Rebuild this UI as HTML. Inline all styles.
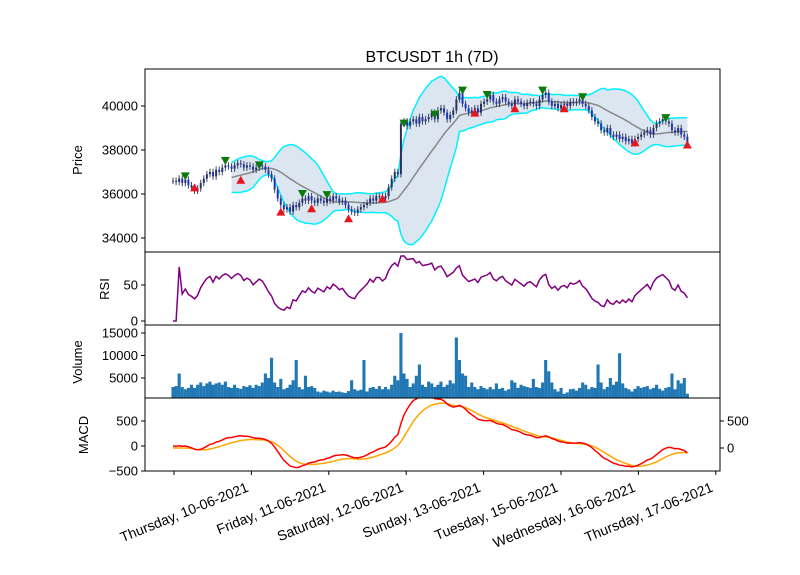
<!DOCTYPE html>
<html><head><meta charset="utf-8">
<style>
html,body{margin:0;padding:0;background:#fff;}
svg{display:block;font-family:"Liberation Sans","DejaVu Sans",sans-serif;}
</style></head>
<body>
<svg id="chart" width="800" height="575" viewBox="0 0 800 575" xmlns="http://www.w3.org/2000/svg">
<rect width="800" height="575" fill="#fff"/>
<text x="432" y="62" font-size="16" text-anchor="middle">BTCUSDT 1h (7D)</text>
<g id="g"></g>
</svg>
<script>
const closes = [36600,36550,36700,36500,36650,36400,36300,36150,36250,36500,
36700,36900,37000,36800,37100,37000,37200,37300,37250,37150,
37300,37400,37350,37200,37300,37250,37100,37200,37300,37250,
37100,36900,36700,36200,35800,35500,35300,35400,35200,35500,
35400,35600,35800,35700,35900,35700,35600,35800,35700,35600,
35800,35700,35900,35800,35650,35700,35500,35300,35200,35150,
35300,35400,35500,35600,35800,35700,35900,35900,35800,35900,
36300,36700,37000,36900,39200,39300,39100,39300,39400,39200,
39500,39300,39400,39500,39700,39400,39800,39900,39700,39400,
39600,39800,40300,40600,40100,39900,39700,39800,39900,39700,
40100,40200,40300,40500,40200,40100,40300,40400,40200,40100,
40000,40300,40200,40100,40000,40150,40200,40100,40000,40300,
40500,40600,40200,40000,40100,39900,40050,40100,40000,40200,
40150,40200,40300,40100,40000,39800,39500,39300,39200,38900,
38800,39000,38700,38600,38700,38500,38600,38400,38500,38300,
38500,38600,38700,38800,38900,38700,39000,39200,39300,39400,
39300,39200,38900,38800,39000,38700,38600,38300];
const volumes = [3000,3200,6000,3000,2500,2800,3500,2800,3500,4000,
3200,3800,4200,3500,3800,4000,3500,4200,3000,2800,
3500,2800,2600,3200,3000,3400,2800,3500,3200,4000,
6000,5000,9500,4000,3000,4800,2500,2800,3500,4500,
9000,3000,2500,5500,3000,3200,2800,2000,1800,2200,
2000,1800,2200,1900,2000,1800,1700,2100,4500,2500,
2200,2400,9000,2000,2800,3000,2600,3200,2500,3000,
2500,3500,5500,4500,15000,6000,4800,3000,3800,5500,
8000,3500,3000,4200,3800,3000,3500,4200,3000,3500,
4500,3800,14000,9000,6000,5500,3000,4000,3000,2500,
3200,2800,2500,3000,2500,3800,2600,2800,2200,2500,
4500,4000,2800,3500,3200,3000,2800,4800,3000,2800,
4000,9000,6500,4000,2500,2000,2800,1500,1800,2500,
2600,2200,2800,4000,3500,2500,3000,2800,8000,4000,
2500,3000,5000,3500,4200,10500,3800,2800,2500,2000,
2600,3200,2800,3000,3200,2500,2800,3500,2600,2200,
2800,3000,6000,2500,4500,3800,5000,1500];
const sellIdx = [4,17,28,42,50,75,85,94,102,120,133,160];
const sellPrice = [36800,37500,37300,36000,35950,39200,39600,40700,40500,40700,40400,39450];
const buyIdx = [7,22,35,45,57,68,98,111,127,150,167];
const buyPrice = [36300,36650,35200,35350,34900,35800,39700,39900,39900,38350,38250];
const xTickLabels = ["Thursday, 10-06-2021","Friday, 11-06-2021","Saturday, 12-06-2021","Sunday, 13-06-2021","Tuesday, 15-06-2021","Wednesday, 16-06-2021","Thursday, 17-06-2021"];
const priceTicks = [34000,36000,38000,40000];
const rsiTicks = [0,50];
const volTicks = [5000,10000,15000];
const macdTicks = [-500,0,500];
const macdRightTicks = [0,500];

const NS="http://www.w3.org/2000/svg";
const G=document.getElementById('g');
function mk(tag,attrs,parent){const e=document.createElementNS(NS,tag);for(const k in attrs)e.setAttribute(k,attrs[k]);(parent||G).appendChild(e);return e;}
const L=145,R=720;
const xs=i=>173+i*3.08;
const yP=v=>106+(40000-v)*0.022;
const yR=v=>321-v*0.72;
const yV=v=>400.5-v*0.0045;
const yM=v=>446-v*0.05;
const yM2=v=>448-v*0.054;
const N=closes.length;

const defs=mk('defs',{});
[['cp',69,252],['cr',252,325],['cv',325,398],['cm',398,471]].forEach(([id,t,b])=>{const c=mk('clipPath',{id},defs);mk('rect',{x:L,y:t,width:R-L,height:b-t},c);});

const ma=[],up=[],lo=[];
for(let i=19;i<N;i++){let s=0;for(let j=i-19;j<=i;j++)s+=closes[j];const m=s/20;let v=0;for(let j=i-19;j<=i;j++)v+=(closes[j]-m)**2;const sd=Math.sqrt(v/20);ma.push([i,m]);up.push([i,m+2*sd]);lo.push([i,m-2*sd]);}
const gp=mk('g',{'clip-path':'url(#cp)'});
let fd='M'+up.map(p=>xs(p[0]).toFixed(1)+','+yP(p[1]).toFixed(1)).join('L')+'L'+lo.slice().reverse().map(p=>xs(p[0]).toFixed(1)+','+yP(p[1]).toFixed(1)).join('L')+'Z';
let e=mk('path',{d:fd,fill:'#dbe6f0',stroke:'none'},gp);

const pl=(arr,f)=>arr.map(p=>xs(p[0]).toFixed(1)+','+f(p[1]).toFixed(1)).join(' ');
e=mk('polyline',{points:pl(up,yP),fill:'none',stroke:'#00f0ff','stroke-width':1.5},gp);

e=mk('polyline',{points:pl(lo,yP),fill:'none',stroke:'#00f0ff','stroke-width':1.5},gp);

e=mk('polyline',{points:pl(ma,yP),fill:'none',stroke:'#888','stroke-width':1.5},gp);

for(let i=0;i<N;i++){const o=i?closes[i-1]:closes[0],c=closes[i];const hi=Math.max(o,c)+150,lw=Math.min(o,c)-150;const x=xs(i);
 e=mk('line',{x1:x,x2:x,y1:yP(hi),y2:yP(lw),stroke:'#3a4566','stroke-width':1},gp);
 
 const t=yP(Math.max(o,c)),b=yP(Math.min(o,c));
 e=mk('rect',{x:x-1,y:t,width:2,height:Math.max(b-t,0.8),fill:c>=o?'#2a3060':'#2233bb'},gp);
 }
for(let k=0;k<sellIdx.length;k++){const x=xs(sellIdx[k]),y=yP(sellPrice[k]);
 e=mk('path',{d:`M${x-4.5},${y-4}L${x+4.5},${y-4}L${x},${y+4}Z`,fill:'#0a7a0a'},gp);
 }
for(let k=0;k<buyIdx.length;k++){const x=xs(buyIdx[k]),y=yP(buyPrice[k]);
 e=mk('path',{d:`M${x-4.5},${y+4}L${x+4.5},${y+4}L${x},${y-4}Z`,fill:'#e8141e'},gp);
 }

const rsi=[0];let ag=0,al=0;const P=10;
for(let i=1;i<N;i++){const d=closes[i]-closes[i-1];const g=Math.max(d,0),l=Math.max(-d,0);
 if(i<=3){ag=(ag*(i-1)+g)/i;al=(al*(i-1)+l)/i;}else{ag=(ag*(P-1)+g)/P;al=(al*(P-1)+l)/P;}
 rsi.push(i<2?0:(al===0?100:100-100/(1+ag/al)));}
const gr=mk('g',{'clip-path':'url(#cr)'});
e=mk('polyline',{points:rsi.map((v,i)=>xs(i).toFixed(1)+','+yR(v).toFixed(1)).join(' '),fill:'none',stroke:'#800080','stroke-width':1.5},gr);


const gv=mk('g',{'clip-path':'url(#cv)'});
for(let i=0;i<N;i++){const y=yV(volumes[i]);
 e=mk('rect',{x:xs(i)-1.55,y:y,width:3.1,height:400.5-y,fill:'#1f77b4'},gv);
 }

const ema=(arr,n)=>{const k=2/(n+1);const o=[arr[0]];for(let i=1;i<arr.length;i++)o.push(arr[i]*k+o[i-1]*(1-k));return o;};
const e12=ema(closes,12),e26=ema(closes,26);const macd=e12.map((v,i)=>v-e26[i]);const sig=ema(macd,9).map(v=>v-40);
const gm=mk('g',{'clip-path':'url(#cm)'});
e=mk('polyline',{points:sig.map((v,i)=>xs(i).toFixed(1)+','+yM(v).toFixed(1)).join(' '),fill:'none',stroke:'#ffa500','stroke-width':1.5},gm);

e=mk('polyline',{points:macd.map((v,i)=>xs(i).toFixed(1)+','+yM(v).toFixed(1)).join(' '),fill:'none',stroke:'#ff0000','stroke-width':1.5},gm);


[[69,252,'price-panel'],[252,325,'rsi-panel'],[325,398,'volume-panel'],[398,471,'macd-panel']].forEach(([t,b,n])=>{
 e=mk('rect',{x:L,y:t,width:R-L,height:b-t,fill:'none',stroke:'#000','stroke-width':1});
 });
function ytick(v,y,name,right){const x=right?R:L;const dx=right?1:-1;
 mk('line',{x1:x,x2:x+dx*4,y1:y,y2:y,stroke:'#000'});
 e=mk('text',{x:x+dx*7,y:y+4.5,'font-size':13,'text-anchor':right?'start':'end'});
 e.textContent=(v<0?'\u2212':'')+Math.abs(v);
 }
priceTicks.forEach(v=>ytick(v,yP(v),'price-tick-label'));
rsiTicks.forEach(v=>ytick(v,yR(v),'rsi-tick-label'));
volTicks.forEach(v=>ytick(v,yV(v),'volume-tick-label'));
macdTicks.forEach(v=>ytick(v,yM(v),'macd-tick-label'));
macdRightTicks.forEach(v=>ytick(v,yM2(v),'macd-right-tick-label',true));
function ylab(t,x,y,n){e=mk('text',{x:x,y:y,'font-size':13,'text-anchor':'middle',transform:`rotate(-90 ${x} ${y})`});e.textContent=t;
 }
ylab('Price',82,160,'price-axis-title');ylab('RSI',109,289,'rsi-axis-title');ylab('Volume',82,362,'volume-axis-title');ylab('MACD',88,435,'macd-axis-title');
for(let k=0;k<8;k++){const x=174+k*77.4;mk('line',{x1:x,x2:x,y1:471,y2:475,stroke:'#000'});}
xTickLabels.forEach((t,k)=>{const x=174+(k+1)*77.4-2;
 e=mk('text',{x:x,y:491,'font-size':14,'text-anchor':'end',transform:`rotate(-22 ${x} 491)`});e.textContent=t;
 });
</script>
</body></html>
